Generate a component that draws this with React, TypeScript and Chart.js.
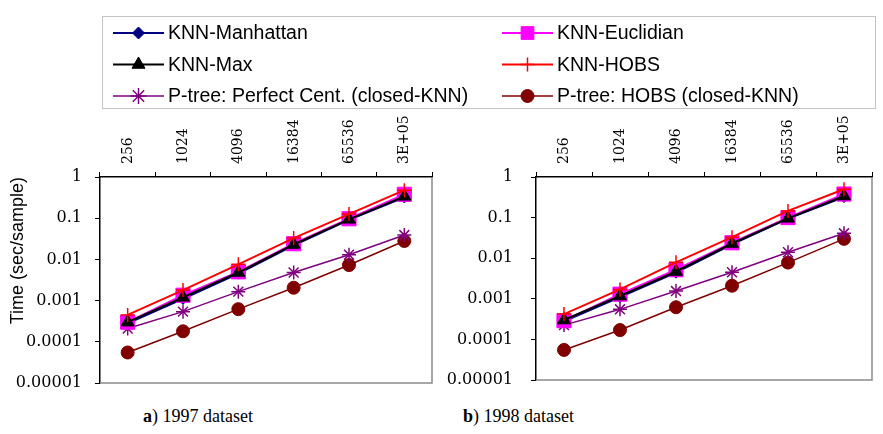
import React, { useEffect, useRef } from 'react';
import { Chart, registerables } from 'chart.js';
import { drawPoint } from 'chart.js/helpers';

Chart.register(...registerables);

// ---------- data ----------
const categories = ['256', '1024', '4096', '16384', '65536', '3E+05'];
const yTickValues = [0.00001, 0.0001, 0.001, 0.01, 0.1, 1];
const yTickLabels = ['0.00001', '0.0001', '0.001', '0.01', '0.1', '1'];
const yAxisTitle = 'Time (sec/sample)';

const seriesNames = [
  'KNN-Manhattan',
  'KNN-Euclidian',
  'KNN-Max',
  'KNN-HOBS',
  'P-tree: Perfect Cent. (closed-KNN)',
  'P-tree: HOBS (closed-KNN)',
];

// 1997 dataset
const manhattan97 = [0.00028, 0.0011, 0.0045, 0.022, 0.091, 0.32];
const euclid97 = [0.0003, 0.00135, 0.005, 0.024, 0.097, 0.38];
const max97 = [0.0003, 0.0012, 0.0048, 0.023, 0.094, 0.34];
const hobs97 = [0.00045, 0.0018, 0.0076, 0.033, 0.126, 0.48];
const ptreePerfect97 = [0.00021, 0.00054, 0.00165, 0.0048, 0.013, 0.039];
const ptreeHobs97 = [0.000055, 0.00018, 0.00062, 0.00205, 0.0073, 0.028];

// 1998 dataset
const manhattan98 = [0.00028, 0.0011, 0.0044, 0.022, 0.094, 0.32];
const euclid98 = [0.00029, 0.0013, 0.0052, 0.024, 0.1, 0.38];
const max98 = [0.0003, 0.00117, 0.0047, 0.023, 0.096, 0.34];
const hobs98 = [0.00042, 0.0017, 0.0079, 0.033, 0.146, 0.5];
const ptreePerfect98 = [0.000225, 0.00055, 0.00155, 0.0045, 0.014, 0.041];
const ptreeHobs98 = [0.000055, 0.00017, 0.00062, 0.0021, 0.0078, 0.03];

const captionA = ['a', ') 1997 dataset'];
const captionB = ['b', ') 1998 dataset'];

// ---------- styles ----------
const seriesStyles = [
  { color: '#000080', pointStyle: 'rectRot', radius: 5.5, lineWidth: 2, pbw: 1, order: 3, legendRadius: 6 },
  { color: '#FF00FF', pointStyle: 'rect', radius: 10, lineWidth: 2, pbw: 1, order: 2, legendRadius: 9 },
  { color: '#000000', pointStyle: 'triangle', radius: 7.5, lineWidth: 2, pbw: 1, order: 1, legendRadius: 7.5 },
  { color: '#FF0000', pointStyle: 'cross', radius: 7, lineWidth: 2, pbw: 1.5, order: 0, legendRadius: 7 },
  { color: '#800080', pointStyle: 'star', radius: 7, lineWidth: 1.5, pbw: 1.5, order: 4, legendRadius: 8 },
  { color: '#800000', pointStyle: 'circle', radius: 6.5, lineWidth: 1.5, pbw: 1, order: 5, legendRadius: 6.5 },
];

function makeDatasets(values: number[][], legend = false) {
  return values.map((d, i) => {
    const s = seriesStyles[i];
    return {
      label: seriesNames[i],
      data: d,
      borderColor: s.color,
      backgroundColor: s.color,
      borderWidth: s.lineWidth,
      pointStyle: s.pointStyle,
      pointRadius: legend ? s.legendRadius : s.radius,
      pointBorderWidth: s.pbw,
      pointBorderColor: s.color,
      pointBackgroundColor: s.color,
      tension: 0,
      order: s.order,
      fill: false,
    };
  });
}

const boxPlugin = {
  id: 'plotBox',
  beforeDatasetsDraw(chart: any) {
    const { ctx, chartArea: a } = chart;
    ctx.save();
    ctx.strokeStyle = '#8a8a8a';
    ctx.lineWidth = 1.5;
    ctx.beginPath();
    ctx.moveTo(a.left, a.bottom);
    ctx.lineTo(a.right, a.bottom);
    ctx.lineTo(a.right, a.top);
    ctx.stroke();
    ctx.restore();
  },
};

type PanelProps = {
  values: number[][];
  left: number;
  width: number;
  yWidth: number;
  yPad: number;
  padRight: number;
  padBottom: number;
  showTitle: boolean;
};

function Panel(p: PanelProps) {
  const ref = useRef<HTMLCanvasElement>(null);
  useEffect(() => {
    const chart = new Chart(ref.current!, {
      type: 'line',
      data: { labels: categories, datasets: makeDatasets(p.values) as any },
      plugins: [boxPlugin],
      options: {
        animation: false,
        responsive: false,
        devicePixelRatio: 1,
        layout: { padding: { left: 0, top: 0, right: p.padRight, bottom: p.padBottom } },
        plugins: { legend: { display: false }, tooltip: { enabled: false } },
        scales: {
          x: {
            type: 'category',
            position: 'top',
            offset: true,
            grid: {
              display: true,
              drawOnChartArea: false,
              drawTicks: true,
              tickLength: 5,
              color: '#000',
              offset: true,
              lineWidth: 1,
            },
            border: { display: true, color: '#000', width: 1.5 },
            ticks: {
              minRotation: 90,
              maxRotation: 90,
              autoSkip: false,
              padding: 8,
              labelOffset: 17,
              color: '#000',
              font: { family: '"DejaVu Serif"', size: 14 },
            },
            afterFit: (s: any) => {
              s.height = 77;
              s.paddingLeft = 0;
              s.paddingRight = 0;
            },
          },
          y: {
            type: 'logarithmic',
            min: 0.00001,
            max: 1,
            afterBuildTicks: (s: any) => {
              s.ticks = yTickValues.map((v) => ({ value: v }));
            },
            grid: {
              display: true,
              drawOnChartArea: false,
              drawTicks: true,
              tickLength: 5,
              color: '#000',
              lineWidth: 1,
            },
            border: { display: true, color: '#000', width: 1.5 },
            ticks: {
              padding: p.yPad,
              color: '#000',
              font: { family: '"DejaVu Serif"', size: 16 },
              callback: (_v: any, i: number) => yTickLabels[i],
            },
            title: {
              display: p.showTitle,
              text: yAxisTitle,
              align: 'end',
              color: '#000',
              font: { family: '"Liberation Sans"', size: 18 },
              padding: { top: 7, bottom: 0 },
            },
            afterFit: (s: any) => {
              s.width = p.yWidth;
              s.paddingTop = 0;
              s.paddingBottom = 0;
            },
          },
        },
      } as any,
    });
    return () => chart.destroy();
  }, []);
  return (
    <canvas
      ref={ref}
      width={p.width}
      height={295}
      style={{ position: 'absolute', left: p.left, top: 100, width: p.width, height: 295, display: 'block' }}
    />
  );
}

const legendPlugin = {
  id: 'customLegend',
  afterDraw(chart: any) {
    const ctx = chart.ctx;
    const ds = chart.data.datasets;
    ctx.save();
    ctx.fillStyle = '#fff';
    ctx.fillRect(102, 16, 773, 93);
    ctx.strokeStyle = '#c4c4c4';
    ctx.lineWidth = 1;
    ctx.strokeRect(102.5, 16.5, 773, 92);
    const colX = [113, 502];
    const rowY = [33, 64.5, 96];
    ds.forEach((d: any, i: number) => {
      const x0 = colX[i % 2];
      const y = rowY[Math.floor(i / 2)];
      ctx.strokeStyle = d.borderColor;
      ctx.lineWidth = d.borderWidth;
      ctx.beginPath();
      ctx.moveTo(x0, y);
      ctx.lineTo(x0 + 51, y);
      ctx.stroke();
      ctx.fillStyle = d.pointBackgroundColor;
      ctx.strokeStyle = d.pointBorderColor;
      ctx.lineWidth = d.pointBorderWidth;
      drawPoint(ctx, { pointStyle: d.pointStyle, radius: d.pointRadius, borderWidth: d.pointBorderWidth, rotation: 0 } as any, x0 + 25.5, y);
      ctx.fillStyle = '#000';
      ctx.font = '19.5px "Liberation Sans"';
      ctx.textBaseline = 'middle';
      ctx.textAlign = 'left';
      ctx.fillText(d.label, x0 + 55, y + 1);
    });
    ctx.restore();
  },
};

function Legend() {
  const ref = useRef<HTMLCanvasElement>(null);
  useEffect(() => {
    const ds = makeDatasets(seriesNames.map(() => []), true);
    const chart = new Chart(ref.current!, {
      type: 'line',
      data: { labels: [], datasets: ds as any },
      plugins: [legendPlugin],
      options: {
        animation: false,
        responsive: false,
        devicePixelRatio: 1,
        plugins: { legend: { display: false }, tooltip: { enabled: false } },
        scales: { x: { display: false }, y: { display: false } },
      } as any,
    });
    return () => chart.destroy();
  }, []);
  return (
    <canvas
      ref={ref}
      width={883}
      height={112}
      style={{ position: 'absolute', left: 0, top: 0, width: 883, height: 112, display: 'block' }}
    />
  );
}

const captionStyle: React.CSSProperties = {
  position: 'absolute',
  top: 405,
  fontFamily: '"Liberation Serif", "Times New Roman", serif',
  fontSize: 18,
  lineHeight: '22px',
  color: '#000',
  whiteSpace: 'nowrap',
};

export default function App() {
  useEffect(() => {
    document.body.style.margin = '0';
  }, []);
  return (
    <div style={{ position: 'relative', width: 883, height: 434, background: '#fff', overflow: 'hidden' }}>
      <Panel
        values={[manhattan97, euclid97, max97, hobs97, ptreePerfect97, ptreeHobs97]}
        left={0}
        width={445}
        yWidth={100}
        yPad={13}
        padRight={13}
        padBottom={12}
        showTitle={true}
      />
      <Panel
        values={[manhattan98, euclid98, max98, hobs98, ptreePerfect98, ptreeHobs98]}
        left={440}
        width={443}
        yWidth={96}
        yPad={18}
        padRight={8}
        padBottom={15}
        showTitle={false}
      />
      <Legend />
      <div style={{ ...captionStyle, left: 143 }}>
        <b>{captionA[0]}</b>
        {captionA[1]}
      </div>
      <div style={{ ...captionStyle, left: 463 }}>
        <b>{captionB[0]}</b>
        {captionB[1]}
      </div>
    </div>
  );
}
